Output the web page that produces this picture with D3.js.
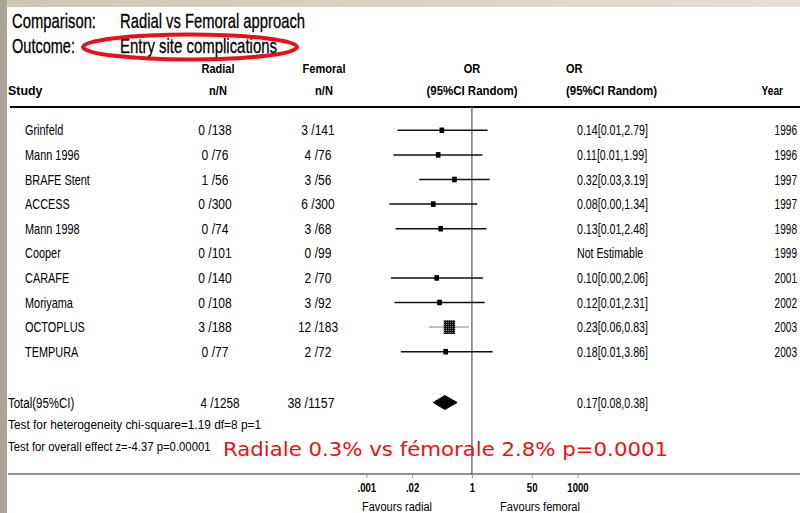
<!DOCTYPE html>
<html>
<head>
<meta charset="utf-8">
<script src="https://cdn.jsdelivr.net/npm/d3@7"></script>
<style>
  html, body { margin: 0; padding: 0; background: #fff; }
  svg { display: block; }
  text { font-family: "Liberation Sans", Arial, sans-serif; fill: #000; }
</style>
</head>
<body>
<svg id="chart" width="800" height="513"></svg>
<script>
const studies = ["Grinfeld", "Mann 1996", "BRAFE Stent", "ACCESS", "Mann 1998", "Cooper", "CARAFE", "Moriyama", "OCTOPLUS", "TEMPURA"]
const radialN = ["0 /138", "0 /76", "1 /56", "0 /300", "0 /74", "0 /101", "0 /140", "0 /108", "3 /188", "0 /77"]
const femoralN = ["3 /141", "4 /76", "3 /56", "6 /300", "3 /68", "0 /99", "2 /70", "3 /92", "12 /183", "2 /72"]
const oddsRatio = [0.14, 0.11, 0.32, 0.08, 0.13, null, 0.10, 0.12, 0.23, 0.18]
const ciLow = [0.0077, 0.0059, 0.032, 0.0045, 0.0068, null, 0.005, 0.0063, 0.06, 0.0096]
const ciHigh = [2.79, 1.99, 3.19, 1.42, 2.6, null, 2.06, 2.31, 0.83, 3.86]
const weights = [6, 6, 6, 6, 6, 0, 6, 6, 36, 6]
const orLabels = ["0.14[0.01,2.79]", "0.11[0.01,1.99]", "0.32[0.03,3.19]", "0.08[0.00,1.34]", "0.13[0.01,2.48]",
  "Not Estimable", "0.10[0.00,2.06]", "0.12[0.01,2.31]", "0.23[0.06,0.83]", "0.18[0.01,3.86]"]
const years = ["1996", "1996", "1997", "1997", "1998", "1999", "2001", "2002", "2003", "2003"]

const totalLabel = "Total(95%CI)"
const totalRadial = "4 /1258"
const totalFemoral = "38 /1157"
const totalOR = [0.08, 0.17, 0.38]
const totalORLabel = "0.17[0.08,0.38]"

const axisTicks = [0.001, 0.02, 1, 50, 1000]
const axisTickLabels = [".001", ".02", "1", "50", "1000"]

const svg = d3.select("#chart")

// condensed text: no narrow font installed, so squeeze horizontally
function txt(g, x, y, s, sx, anchor) {
  return g.append("text")
    .attr("transform", `translate(${x},${y}) scale(${sx},1)`)
    .attr("text-anchor", anchor || "start")
    .text(s)
}

// slide frame
const defs = svg.append("defs")
const grad = defs.append("linearGradient").attr("id", "topband").attr("x1", 0).attr("x2", 1)
grad.append("stop").attr("offset", 0).attr("stop-color", "#cfc7b6")
grad.append("stop").attr("offset", 1).attr("stop-color", "#e6e0d4")
const pat = defs.append("pattern").attr("id", "checker").attr("width", 2).attr("height", 2)
  .attr("patternUnits", "userSpaceOnUse")
pat.append("rect").attr("width", 2).attr("height", 2).attr("fill", "#111")
pat.append("rect").attr("width", 1).attr("height", 1).attr("fill", "#777")

svg.append("rect").attr("width", 800).attr("height", 7).attr("fill", "url(#topband)")
svg.append("rect").attr("width", 7).attr("height", 513).attr("fill", "#aba597")

// heading
const head = svg.append("g").attr("font-size", 21).attr("stroke", "#000").attr("stroke-width", 0.3)
head.append("text").attr("x", 12).attr("y", 28)
  .attr("textLength", 84).attr("lengthAdjust", "spacingAndGlyphs").text("Comparison:")
head.append("text").attr("x", 120).attr("y", 28)
  .attr("textLength", 185).attr("lengthAdjust", "spacingAndGlyphs").text("Radial vs Femoral approach")
head.append("text").attr("x", 12).attr("y", 53)
  .attr("textLength", 63).attr("lengthAdjust", "spacingAndGlyphs").text("Outcome:")
head.append("text").attr("x", 120).attr("y", 53)
  .attr("textLength", 157).attr("lengthAdjust", "spacingAndGlyphs").text("Entry site complications")

svg.append("ellipse").attr("cx", 190).attr("cy", 47).attr("rx", 107).attr("ry", 12.5)
  .attr("fill", "none").attr("stroke", "#e8101a").attr("stroke-width", 4)

// column headers
const colRadial = 215, colFemoral = 318, colOR = 577, colYear = 797
const hdr = svg.append("g").attr("font-weight", "bold").attr("font-size", 13.5)
txt(hdr, 218, 73, "Radial", 0.82, "middle")
txt(hdr, 324, 73, "Femoral", 0.82, "middle")
txt(hdr, 8, 95, "Study", 0.92)
txt(hdr, 218, 95, "n/N", 0.82, "middle")
txt(hdr, 324, 95, "n/N", 0.82, "middle")
txt(hdr, 472, 73, "OR", 0.82, "middle")
txt(hdr, 472, 95, "(95%CI Random)", 0.85, "middle")
txt(hdr, 566, 73, "OR", 0.82)
txt(hdr, 566, 95, "(95%CI Random)", 0.85)
txt(hdr, 783, 95, "Year", 0.75, "end")

svg.append("line").attr("x1", 10).attr("x2", 800).attr("y1", 107).attr("y2", 107)
  .attr("stroke", "#000").attr("stroke-width", 2)

// scales
const x = d3.scaleLog().domain([0.001, 1000]).range([366.3, 577.5])
const y = d3.scaleBand().domain(studies).range([118, 364])
const box = d3.scaleSqrt().domain([0, 40]).range([0, 12])
const cy = s => y(s) + y.bandwidth() / 2
const axisY = 474, totalY = 402.5

// reference line at OR = 1
svg.append("line").attr("x1", x(1)).attr("x2", x(1)).attr("y1", 107).attr("y2", axisY)
  .attr("stroke", "#777").attr("stroke-width", 1.5)

// study rows
const rows = svg.append("g").attr("font-size", 14)
studies.forEach((s, i) => {
  const yy = cy(s) + 5
  txt(rows, 25, yy, s, 0.78)
  txt(rows, colRadial, yy, radialN[i], 0.86, "middle")
  txt(rows, colFemoral, yy, femoralN[i], 0.86, "middle")
  txt(rows, colOR, yy, orLabels[i], 0.76)
  txt(rows, colYear, yy, years[i], 0.72, "end")

  if (oddsRatio[i] === null) return
  const big = weights[i] > 20
  svg.append("line")
    .attr("x1", x(ciLow[i])).attr("x2", x(ciHigh[i]))
    .attr("y1", cy(s)).attr("y2", cy(s))
    .attr("stroke", big ? "#aaa" : "#111").attr("stroke-width", 1.5)
  const w = box(weights[i])
  svg.append("rect")
    .attr("x", x(oddsRatio[i]) - w / 2).attr("y", cy(s) - w * 0.6)
    .attr("width", w).attr("height", w * 1.2)
    .attr("fill", big ? "url(#checker)" : "#000")
})

// total
txt(rows, 8, totalY + 5, totalLabel, 0.82)
txt(rows, colRadial + 5, totalY + 5, totalRadial, 0.84, "middle")
txt(rows, colFemoral - 7, totalY + 5, totalFemoral, 0.88, "middle")
txt(rows, colOR, totalY + 5, totalORLabel, 0.76)

svg.append("path")
  .attr("d", d3.line()([
    [x(totalOR[0]), totalY], [x(totalOR[1]), totalY - 7],
    [x(totalOR[2]), totalY], [x(totalOR[1]), totalY + 7]
  ]) + "Z")
  .attr("fill", "#000").attr("stroke", "#000").attr("stroke-width", 1).attr("stroke-linejoin", "round")

const tests = svg.append("g").attr("font-size", 13.5)
txt(tests, 8, 429, "Test for heterogeneity chi-square=1.19  df=8  p=1", 0.88)
txt(tests, 8, 451, "Test for overall effect  z=-4.37  p=0.00001", 0.84)

// red note
svg.append("text").attr("x", 223).attr("y", 456)
  .style("font-family", "'DejaVu Sans', sans-serif").style("fill", "#f01010")
  .attr("font-size", 20).attr("textLength", 445).attr("lengthAdjust", "spacingAndGlyphs")
  .text("Radiale 0.3% vs fémorale 2.8% p=0.0001")

// axis
svg.append("line").attr("x1", 8).attr("x2", 800).attr("y1", axisY).attr("y2", axisY)
  .attr("stroke", "#222").attr("stroke-width", 1)
const axis = d3.axisBottom(x).tickValues(axisTicks)
  .tickFormat((d, i) => axisTickLabels[i]).tickSize(4).tickSizeOuter(0)
const ag = svg.append("g").attr("transform", `translate(0,${axisY})`).call(axis)
ag.select(".domain").remove()
ag.selectAll(".tick line").attr("stroke", "#999")
ag.selectAll(".tick text").attr("font-size", 12).attr("dy", "0.9em")
  .attr("transform", "scale(0.8,1)").attr("x", 0)
  .style("font-family", "'Liberation Sans', sans-serif").style("font-weight", "bold")

const foot = svg.append("g").attr("font-size", 13.5)
txt(foot, 397, 511, "Favours radial", 0.82, "middle")
txt(foot, 540, 511, "Favours femoral", 0.82, "middle")
</script>
</body>
</html>
